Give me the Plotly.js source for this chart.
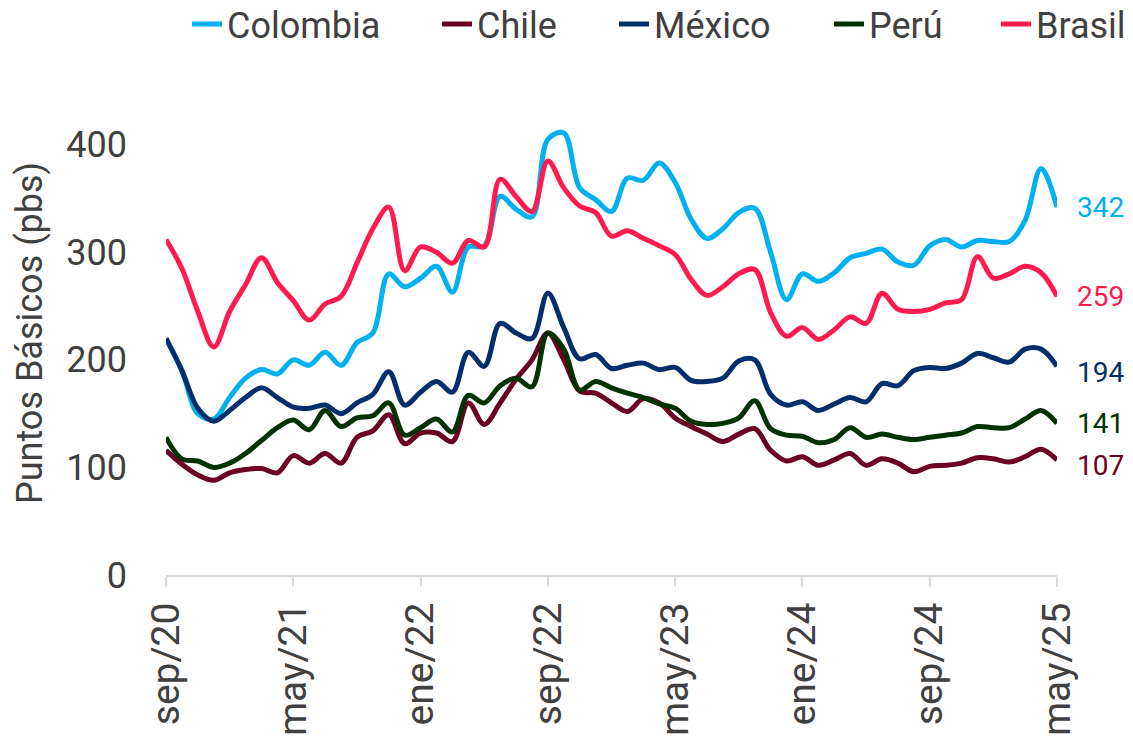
<!DOCTYPE html>
<html>
<head>
<meta charset="utf-8">
<script src="https://cdn.plot.ly/plotly-3.0.1.min.js"></script>
<style>html,body{margin:0;padding:0;background:#fff;}#chart{width:1133px;height:742px;}</style>
</head>
<body>
<div id="chart"></div>
<script>
const months = ["sep/20","oct/20","nov/20","dic/20","ene/21","feb/21","mar/21","abr/21","may/21","jun/21","jul/21","ago/21",
"sep/21","oct/21","nov/21","dic/21","ene/22","feb/22","mar/22","abr/22","may/22","jun/22","jul/22","ago/22",
"sep/22","oct/22","nov/22","dic/22","ene/23","feb/23","mar/23","abr/23","may/23","jun/23","jul/23","ago/23",
"sep/23","oct/23","nov/23","dic/23","ene/24","feb/24","mar/24","abr/24","may/24","jun/24","jul/24","ago/24",
"sep/24","oct/24","nov/24","dic/24","ene/25","feb/25","mar/25","abr/25","may/25"];

const colombia = [220,190,150,145,165,183,191,187,200,195,207,195,216,225,280,268,276,287,263,305,306,352,340,333,
405,411,360,349,338,369,367,383,365,331,313,322,337,341,300,256,280,273,281,295,299,303,291,288,306,312,305,311,310,310,330,378,342];
const chile = [116,103,93,88,95,98,99,95,111,104,113,104,128,134,149,122,132,132,124,160,140,160,182,200,
225,200,171,169,160,152,164,160,146,138,131,124,131,136,116,106,110,102,107,113,102,108,104,96,101,102,104,109,108,105,110,117,107];
const mexico = [220,190,155,143,153,165,174,165,156,155,158,150,160,168,189,158,170,180,170,207,194,234,225,220,
262,230,201,205,192,195,197,191,193,181,180,183,199,200,168,158,161,153,159,165,161,178,176,190,193,192,197,206,202,198,210,210,194];
const peru = [128,108,106,100,104,113,125,137,144,135,153,138,146,148,160,130,137,145,133,167,160,176,183,175,
225,210,172,180,174,169,165,159,155,143,140,141,146,162,136,130,129,123,126,137,128,131,128,126,128,130,132,138,137,137,145,153,141];
const brasil = [312,285,245,212,245,270,295,272,255,237,252,259,290,322,342,283,305,300,290,311,305,368,352,338,
385,360,343,337,315,320,313,306,298,275,260,268,280,284,244,222,230,219,228,240,234,262,247,245,247,253,256,296,276,280,287,281,259];

const seriesNames = ["Colombia","Chile","México","Perú","Brasil"];
const seriesData = [colombia, chile, mexico, peru, brasil];
const seriesColors = ["#00B0F0","#6B0020","#002F6C","#003300","#FF1A4F"];
const endLabels = ["342","107","194","141","259"];
const endShift = [0,-6,-6,0,0];
const legendIds = ["legend","legend2","legend3","legend4","legend5"];
const legendX = [0.0236,0.3042,0.5028,0.7441,0.9315];

const traces = seriesNames.map((n,i)=>({
  type:'scatter', mode:'lines', name:n, x:months, y:seriesData[i], legend:legendIds[i],
  line:{color:seriesColors[i], width:5, shape:'spline', smoothing:1}
}));

const annotations = seriesNames.map((n,i)=>({
  x: months[months.length-1], y: seriesData[i][seriesData[i].length-1],
  xref:'x', yref:'y', text: endLabels[i], showarrow:false,
  xanchor:'left', xshift:18, yshift:endShift[i],
  font:{family:'Roboto, sans-serif', size:28, color:seriesColors[i]}
}));

const layout = {
  width:1133, height:742,
  margin:{l:166, r:76, t:91, b:167, autoexpand:false},
  paper_bgcolor:'#fff', plot_bgcolor:'#fff',
  font:{family:'Roboto, sans-serif', size:36, color:'#404040'},
  showlegend:true,
  xaxis:{type:'category', range:[0,56], tickmode:'linear', tick0:0, dtick:8,
    tickangle:-90, showgrid:false, zeroline:false,
    showline:true, linecolor:'#d9d9d9', linewidth:2,
    ticks:'outside', ticklen:10, tickcolor:'#d9d9d9', tickwidth:2,
    tickfont:{size:39, color:'#404040'}},
  yaxis:{range:[0,450], tickvals:[0,100,200,300,400], showgrid:false, zeroline:false,
    showline:false, ticks:'', ticklabelstandoff:38,
    tickfont:{size:36, color:'#404040'},
    title:{text:'Puntos Básicos (pbs)', font:{size:36, color:'#404040'}, standoff:12}},
  annotations: annotations
};
legendIds.forEach((id,i)=>{
  layout[id] = {orientation:'h', xref:'paper', yref:'paper', x:legendX[i], xanchor:'left', y:1.2, yanchor:'top',
    font:{size:36, color:'#404040'}, bgcolor:'rgba(0,0,0,0)'};
});

Plotly.newPlot('chart', traces, layout, {displayModeBar:false, staticPlot:true});
</script>
</body>
</html>
